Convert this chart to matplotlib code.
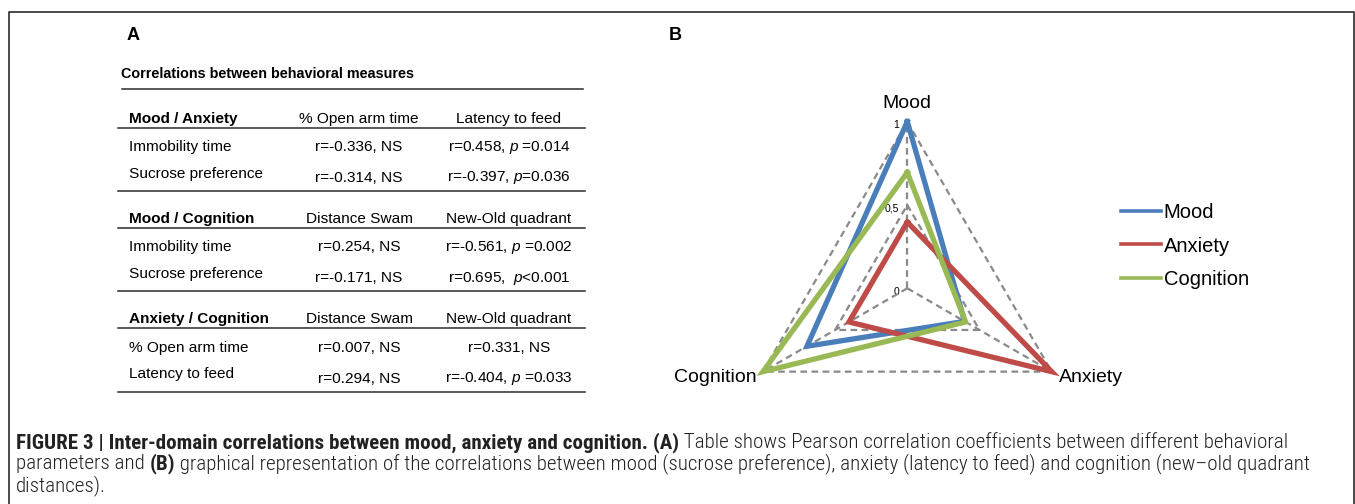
import numpy as np
import matplotlib
matplotlib.use("Agg")
import matplotlib.pyplot as plt
from matplotlib import font_manager

# ---- data ----
axis_names = ["Mood", "Anxiety", "Cognition"]
mood = [1.0, 0.397, 0.695]
anxiety = [0.397, 1.0, 0.404]
cognition = [0.695, 0.404, 1.0]
series_names = ["Mood", "Anxiety", "Cognition"]
series_colors = ["#4a7ebb", "#be4b48", "#98b954"]
rticks = [0, 0.5, 1]
rtick_labels = ["0", "0,5", "1"]

table_title = "Correlations between behavioral measures"
section_titles = ["Mood / Anxiety", "Mood / Cognition", "Anxiety / Cognition"]
section_cols = [["% Open arm time", "Latency to feed"],
                ["Distance Swam", "New-Old quadrant"],
                ["Distance Swam", "New-Old quadrant"]]
section_rows = [["Immobility time", "Sucrose preference"],
                ["Immobility time", "Sucrose preference"],
                ["% Open arm time", "Latency to feed"]]
section_vals = [[["r=-0.336, NS", r"r=0.458, $\mathit{p}$ =0.014"],
                 ["r=-0.314, NS", r"r=-0.397, $\mathit{p}$=0.036"]],
                [["r=0.254, NS", r"r=-0.561, $\mathit{p}$ =0.002"],
                 ["r=-0.171, NS", r"r=0.695,  $\mathit{p}$<0.001"]],
                [["r=0.007, NS", "r=0.331, NS"],
                 ["r=0.294, NS", r"r=-0.404, $\mathit{p}$ =0.033"]]]

caption_lines = [
    [("FIGURE 3 | Inter-domain correlations between mood, anxiety and cognition. (A)", "bold"),
     (" Table shows Pearson correlation coefficients between different behavioral", "light")],
    [("parameters and ", "light"), ("(B)", "bold"),
     (" graphical representation of the correlations between mood (sucrose preference), anxiety (latency to feed) and cognition (new\u2013old quadrant", "light")],
    [("distances).", "light")],
]
caption_ends = [1295, 1293]

plt.rcParams["font.family"] = ["Liberation Sans", "DejaVu Sans"]
plt.rcParams["mathtext.fontset"] = "custom"
plt.rcParams["mathtext.rm"] = "Liberation Sans"
plt.rcParams["mathtext.it"] = "Liberation Sans:italic"

# caption font: a narrow face if one is installed
names = {f.name for f in font_manager.fontManager.ttflist}
cap_family, cap_stretch = "Liberation Sans", "normal"
for c in ["Liberation Sans Narrow", "Arial Narrow", "Roboto Condensed",
          "Open Sans Condensed", "Noto Sans Condensed"]:
    if c in names:
        cap_family = c
        break
else:
    for f in font_manager.fontManager.ttflist:
        if f.name in ("DejaVu Sans", "Noto Sans", "Roboto", "Open Sans") and "condensed" in str(f.stretch):
            cap_family, cap_stretch = f.name, "condensed"
            break

W, H = 1355, 504
fig = plt.figure(figsize=(W / 100, H / 100), dpi=100)
ov = fig.add_axes([0, 0, 1, 1])
ov.set_xlim(0, W)
ov.set_ylim(H, 0)
ov.axis("off")

# frame
ov.plot([9, 9, 1354, 1354], [H + 5, 12, 12, H + 5], color="#3a3a3a", lw=1.3, clip_on=False)

# panel letters
ov.text(133, 35, "A", fontsize=13, fontweight="bold", ha="center", va="center")
ov.text(675, 35, "B", fontsize=13, fontweight="bold", ha="center", va="center")

# ---- table (panel A) ----
tcol = "#2b2b2b"
fs = 11.1
ov.text(121, 73.5, table_title, fontsize=10.4, fontweight="bold", va="center")
ov.plot([121.5, 583], [89, 89], color=tcol, lw=1.1)
col_x = [359, 509]
for i in range(3):
    y0 = 118.5 + 100.3 * i
    ov.text(129, y0, section_titles[i], fontsize=fs, fontweight="bold", va="center")
    for j in range(2):
        ov.text(col_x[j], y0, section_cols[i][j], fontsize=fs, ha="center", va="center")
    ov.plot([118, 585], [y0 + 9, y0 + 9], color=tcol, lw=1.1)
    for k in range(2):
        yl = y0 + 28.5 + 26.8 * k
        yv = yl + 4.2 * k
        ov.text(129, yl, section_rows[i][k], fontsize=fs, va="center")
        for j in range(2):
            ov.text(col_x[j], yv, section_vals[i][k][j], fontsize=fs, ha="center", va="center")
    ov.plot([118, 585], [y0 + 72.5, y0 + 72.5], color=tcol, lw=1.1)

# ---- radar (panel B) ----
cx, cy, R = 907.3, 288.3, 166.7
ax = fig.add_axes([(cx - R) / W, (H - cy - R) / H, 2 * R / W, 2 * R / H], projection="polar")
ax.set_theta_zero_location("N")
ax.set_theta_direction(-1)
ax.set_ylim(0, 1)
ax.axis("off")
theta = np.deg2rad([0, 120, 240])
th_closed = np.append(theta, theta[0])
grid_kw = dict(color="#8a8a8a", lw=1.6, ls=(0, (3, 2)), clip_on=False, zorder=1)
for r in rticks[1:]:
    ax.plot(th_closed, [r] * 4, **grid_kw)
for t in theta:
    ax.plot([t, t], [0, 1], **grid_kw)
for vals, name, c in zip([mood, anxiety, cognition], series_names, series_colors):
    ax.plot(th_closed, list(vals) + [vals[0]], color=c, lw=3.8, label=name,
            clip_on=False, zorder=3, solid_joinstyle="miter")
for r, lab in zip(rticks, rtick_labels):
    ov.text(cx - 8, cy - r * R + 3.5, lab, fontsize=7.5, ha="right", va="center")

ov.text(cx, 103, axis_names[0], fontsize=14, ha="center", va="center")
ov.text(1059, 378, axis_names[1], fontsize=14, ha="left", va="center")
ov.text(757, 378, axis_names[2], fontsize=14, ha="right", va="center")

fig.legend(handles=[plt.Line2D([], [], color=c, lw=2.6) for c in series_colors],
           labels=series_names, loc="center left",
           bbox_to_anchor=(1111 / W, 1 - 246 / H), frameon=False, fontsize=14.5,
           borderpad=0, handlelength=2.0, handletextpad=0.12, labelspacing=0.72)

# ---- caption ----
fig.canvas.draw()
renderer = fig.canvas.get_renderer()
inv = ov.transData.inverted()


def caption_line(segs, y, size):
    x = 16
    out = []
    for txt, wt in segs:
        t = ov.text(x, y, txt, fontsize=size, fontweight=wt, family=[cap_family, "DejaVu Sans"],
                    fontstretch=cap_stretch, va="center", ha="left", color="#222222")
        bb = t.get_window_extent(renderer)
        x = inv.transform((bb.x1, bb.y0))[0]
        out.append(t)
    return out, x


# fit the two full lines to the width they have in the figure
ratios = []
for segs, xe in zip(caption_lines[:2], caption_ends):
    trial, xend = caption_line(segs, 442, 10)
    for t in trial:
        t.remove()
    ratios.append((xe - 16) / (xend - 16))
cap_size = 10 * float(np.mean(ratios))
for li, segs in enumerate(caption_lines):
    caption_line(segs, 442.5 + 21.3 * li, cap_size)

fig.savefig("out.png", dpi=100)
